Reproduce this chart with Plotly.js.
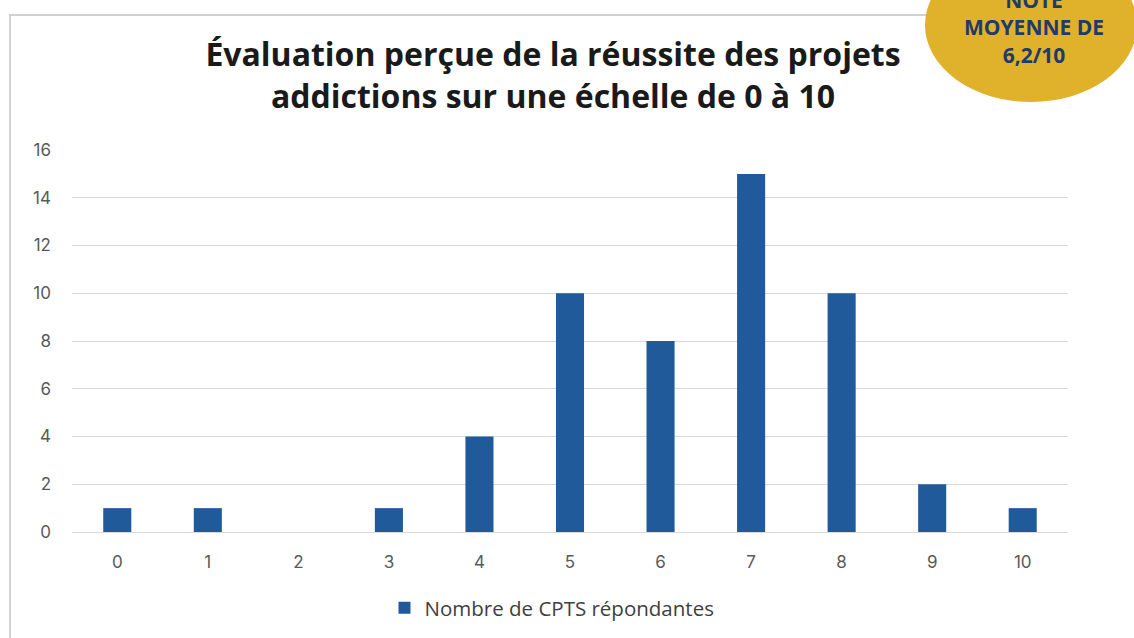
<!DOCTYPE html>
<html><head><meta charset="utf-8">
<script src="https://cdn.plot.ly/plotly-3.0.1.min.js"></script>
<style>html,body{margin:0;padding:0;background:#fff;}#chart{width:1134px;height:638px;}</style>
</head><body><div id="chart"></div>
<script>
const categories = ['0','1','2','3','4','5','6','7','8','9','10'];
const values = [1, 1, 0, 1, 4, 10, 8, 15, 10, 2, 1];
const seriesName = 'Nombre de CPTS répondantes';
const titleText = 'Évaluation perçue de la réussite des projets<br>addictions sur une échelle de 0 à 10';
const badgeText = 'NOTE<br>MOYENNE DE<br>6,2/10';

const W = 1134, H = 638, L = 72, R = 66, T = 150, B = 106;
const pw = W - L - R, ph = H - T - B;
function px(x){return (x - L) / pw;} function py(y){return (H - B - y) / ph;}

const trace = {
  type: 'bar', x: categories, y: values, name: seriesName,
  marker: {color: '#215a9a'}, showlegend: true
};
const layout = {
  width: W, height: H,
  margin: {l: L, r: R, t: T, b: B},
  paper_bgcolor: '#ffffff', plot_bgcolor: '#ffffff',
  bargap: 0.69,
  title: {text: titleText, xref: 'paper', x: px(553), xanchor: 'center',
    yref: 'container', y: 1 - 66 / H, yanchor: 'top',
    font: {family: 'Open Sans, sans-serif', size: 32, color: '#1a1a1a', weight: 700}},
  xaxis: {type: 'category', showgrid: false, zeroline: false, showline: false,
    ticks: '', ticklabelstandoff: 18,
    tickfont: {family: 'Inter, Roboto, sans-serif', size: 17, color: '#595959'}},
  yaxis: {range: [0, 16], dtick: 2, showgrid: true, gridcolor: '#d9d9d9', gridwidth: 1.3,
    zeroline: true, zerolinecolor: '#d9d9d9', zerolinewidth: 1.3, showline: false, ticks: '',
    ticklabelstandoff: 20,
    tickfont: {family: 'Inter, Roboto, sans-serif', size: 17, color: '#595959'}},
  legend: {orientation: 'h', x: px(552), xanchor: 'center', yref: 'container', y: (H - 608) / H, yanchor: 'middle',
    font: {family: 'Open Sans, sans-serif', size: 20.5, color: '#404040'}},
  shapes: [
    {type: 'rect', xref: 'paper', yref: 'paper', x0: px(10), x1: px(1140), y0: py(650), y1: py(15),
      line: {color: '#d0d0d0', width: 2}, fillcolor: 'rgba(0,0,0,0)', layer: 'below'},
    {type: 'circle', xref: 'paper', yref: 'paper', layer: 'above',
      x0: px(925), x1: px(1137), y0: py(102), y1: py(-52),
      fillcolor: '#e0b12a', line: {width: 0}}
  ],
  annotations: [
    {xref: 'paper', yref: 'paper', x: px(1034), y: py(28), xanchor: 'center', yanchor: 'middle',
      text: '<b>' + badgeText + '</b>', showarrow: false, align: 'center',
      font: {family: 'Open Sans, sans-serif', size: 21, color: '#1f3a6b'}}
  ]
};
Plotly.newPlot('chart', [trace], layout, {displayModeBar: false});
</script></body></html>
